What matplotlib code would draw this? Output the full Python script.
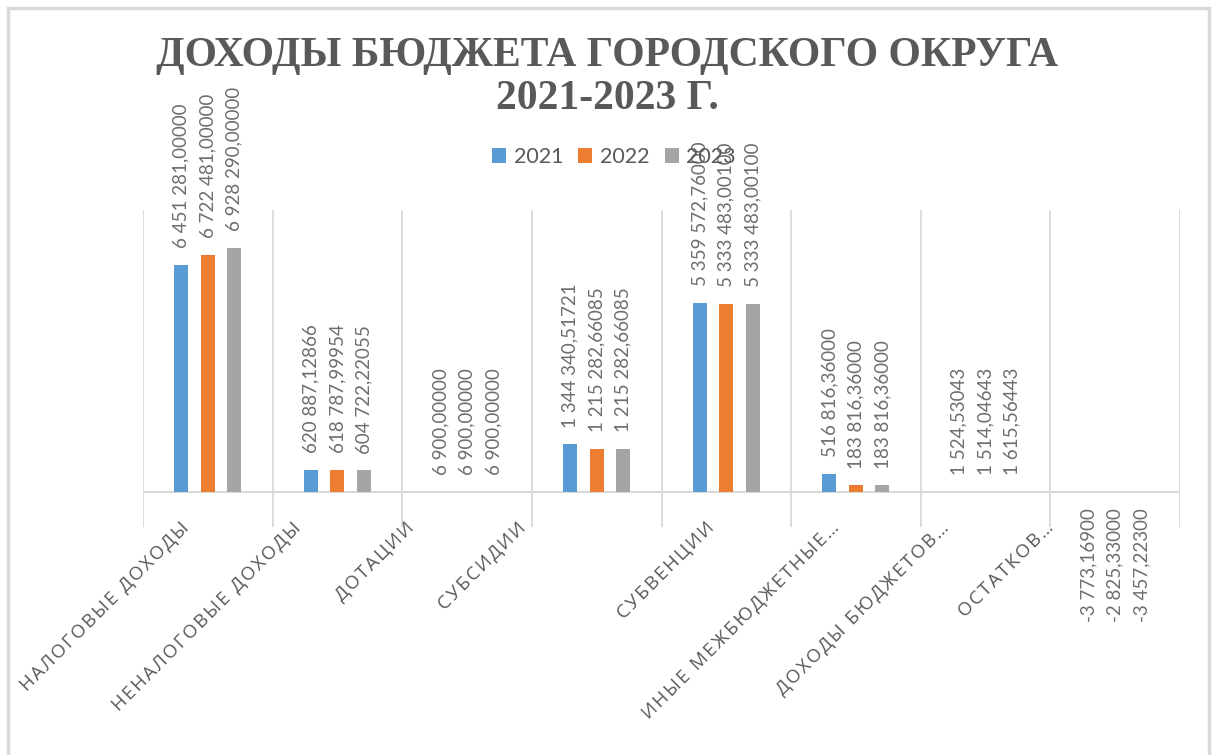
import matplotlib
matplotlib.use("Agg")
import matplotlib.pyplot as plt
from matplotlib.patches import Patch, Rectangle
import numpy as np

# ---- data ----
categories = [
    "НАЛОГОВЫЕ ДОХОДЫ",
    "НЕНАЛОГОВЫЕ ДОХОДЫ",
    "ДОТАЦИИ",
    "СУБСИДИИ",
    "СУБВЕНЦИИ",
    "ИНЫЕ МЕЖБЮДЖЕТНЫЕ…",
    "ДОХОДЫ БЮДЖЕТОВ…",
    "ОСТАТКОВ…",
]
series_names = ["2021", "2022", "2023"]
values_2021 = [6451281.0, 620887.12866, 6900.0, 1344340.51721, 5359572.76000, 516816.36000, 1524.53043, -3773.16900]
values_2022 = [6722481.0, 618787.99954, 6900.0, 1215282.66085, 5333483.00100, 183816.36000, 1514.04643, -2825.33000]
values_2023 = [6928290.0, 604722.22055, 6900.0, 1215282.66085, 5333483.00100, 183816.36000, 1615.56443, -3457.22300]
title_line1 = "ДОХОДЫ БЮДЖЕТА ГОРОДСКОГО ОКРУГА"
title_line2 = "2021-2023 Г."

# ---- style ----
colors = ["#5B9BD5", "#ED7D31", "#A5A5A5"]
label_dx_px = [-28, -46, -63, -80, -21, -26, -46, -71]   # per-label horizontal shift of category labels
W, H = 1216, 755
DPI = 100


def spaced(s, sp="\u200A"):
    return sp.join(list(s))


def fmt(v):
    s = f"{abs(v):,.5f}".replace(",", " ").replace(".", ",")
    return ("-" if v < 0 else "") + s


fig = plt.figure(figsize=(W / DPI, H / DPI), dpi=DPI)
fig.patch.set_facecolor("white")

# outer chart border
fig.add_artist(Rectangle((8 / W, -0.02), (1209 - 8) / W, (H - 8) / H + 0.02,
                         transform=fig.transFigure, fill=False,
                         edgecolor="#D9D9D9", linewidth=2.5))

left, right = 143 / W, 1180 / W
bottom, top = 1 - 527 / H, 1 - 210 / H
ax = fig.add_axes([left, bottom, right - left, top - bottom])
for sp in ax.spines.values():
    sp.set_visible(False)
ax.set_xlim(-0.5, len(categories) - 0.5)
ax.set_ylim(-1_000_000, 8_000_000)
ax.set_xticks([])
ax.set_yticks([])

# category grid lines
for b in np.arange(-0.5, len(categories), 1.0):
    ax.axvline(b, color="#D9D9D9", linewidth=1.3, zorder=0)
ax.axhline(0, color="#D9D9D9", linewidth=1.5, zorder=1)

x = np.arange(len(categories))
bar_w = 0.108
step = 0.204
all_series = [values_2021, values_2022, values_2023]
for k, (vals, c) in enumerate(zip(all_series, colors)):
    xs = x + (k - 1) * step
    ax.bar(xs, vals, width=bar_w, color=c, zorder=2)
    for xi, v in zip(xs, vals):
        if v >= 0:
            ax.annotate(fmt(v), xy=(xi, v), xytext=(0, 12), textcoords="offset points",
                        rotation=90, ha="center", va="bottom", fontsize=13.5,
                        family=["Lato", "DejaVu Sans"], color="#6E6E6E", zorder=5)
        else:
            ax.annotate(fmt(v), xy=(xi, 0), xytext=(0, -12), textcoords="offset points",
                        rotation=90, ha="center", va="top", fontsize=13.5,
                        family=["Lato", "DejaVu Sans"], color="#6E6E6E", zorder=5)

# category labels
for i, (cat, dx) in enumerate(zip(categories, label_dx_px)):
    ax.annotate(spaced(cat), xy=(i, 0), xycoords=("data", "data"),
                xytext=(dx * 0.72, -19), textcoords="offset points",
                rotation=45, rotation_mode="anchor", ha="right", va="top",
                fontsize=13.5, family=["Open Sans", "DejaVu Sans"], color="#595959",
                annotation_clip=False)

# title
fig.text(607 / W, 1 - 66 / H, title_line1, ha="center", va="baseline",
         fontsize=30, fontweight="bold", family=["Liberation Serif", "DejaVu Serif"],
         color="#595959")
fig.text(607 / W, 1 - 109 / H, title_line2, ha="center", va="baseline",
         fontsize=30, fontweight="bold", family=["Liberation Serif", "DejaVu Serif"],
         color="#595959")

# legend
handles = [Patch(facecolor=c, edgecolor="none") for c in colors]
fig.legend(handles, series_names, loc="center", bbox_to_anchor=(614 / W, 1 - 157 / H),
           ncol=3, frameon=False, handlelength=0.65, handleheight=0.65,
           handletextpad=0.35, columnspacing=0.7,
           prop={"family": ["Lato", "DejaVu Sans"], "size": 15.5}, labelcolor="#595959")

fig.savefig("out.png", dpi=DPI, facecolor="white")
